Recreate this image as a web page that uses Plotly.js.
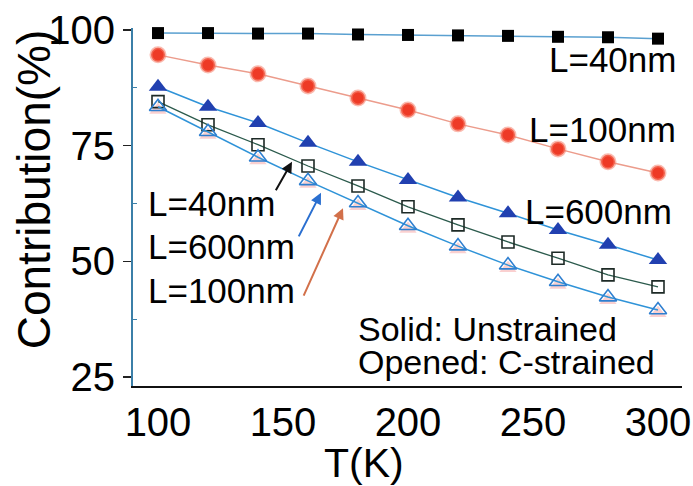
<!DOCTYPE html>
<html>
<head>
<meta charset="utf-8">
<script src="https://cdn.plot.ly/plotly-3.0.1.min.js"></script>
<style>html,body{margin:0;padding:0;background:#fff;}#chart{width:693px;height:486px;}</style>
</head>
<body>
<div id="chart"></div>
<script>
// Temperature (K)
const T = [100, 120, 140, 160, 180, 200, 220, 240, 260, 280, 300];
// Solid (unstrained)
const unstrained40 = [99.3, 99.3, 99.2, 99.2, 99.0, 98.9, 98.8, 98.7, 98.5, 98.4, 98.1];
const unstrained100 = [94.6, 92.4, 90.5, 87.9, 85.3, 82.7, 79.7, 77.3, 74.3, 71.5, 69.1];
const unstrained600 = [87.7, 83.4, 79.9, 75.6, 71.5, 67.6, 63.8, 60.4, 56.8, 53.6, 50.3];
// Opened (C-strained)
const strained40 = [84.5, 79.5, 75.2, 70.6, 66.3, 61.8, 57.9, 54.2, 50.7, 47.1, 44.5];
const strained600 = [83.4, 78.0, 72.5, 67.4, 62.6, 57.7, 53.3, 49.2, 45.6, 42.3, 39.5];
const strained100 = [82.7, 77.3, 71.8, 66.7, 61.9, 57.0, 52.6, 48.5, 44.9, 41.6, 38.8];

const xTicks = [100, 150, 200, 250, 300];
const yTicks = [25, 50, 75, 100];

const FONT = 'Liberation Sans, Arial, Helvetica, sans-serif';

const traces = [
  {x: T, y: unstrained40, mode: 'lines+markers', cliponaxis: false,
   line: {color: '#5aa0d0', width: 1.5},
   marker: {symbol: 'square', size: 12, color: '#000'}},
  {x: T, y: unstrained100, mode: 'lines+markers', cliponaxis: false,
   line: {color: '#ec9c8c', width: 1.5},
   marker: {symbol: 'circle', size: 14, color: '#ee3a26', line: {color: 'rgba(245,130,110,0.55)', width: 3}}},
  {x: T, y: unstrained600, mode: 'lines+markers', cliponaxis: false,
   line: {color: '#2f93d8', width: 1.5},
   marker: {symbol: 'triangle-up', size: 16, color: '#2140b0'}},
  {x: T, y: strained100, mode: 'markers', cliponaxis: false,
   marker: {symbol: 'triangle-up', size: 15, color: 'rgba(240,120,120,0.35)', line: {width: 0}}},
  {x: T, y: strained40, mode: 'lines+markers', cliponaxis: false,
   line: {color: '#2b5a4c', width: 1.3},
   marker: {symbol: 'square-open', size: 12, color: '#1d2a26', line: {width: 1.6}}},
  {x: T, y: strained600, mode: 'lines+markers', cliponaxis: false,
   line: {color: '#2f93d8', width: 1.5},
   marker: {symbol: 'triangle-up-open', size: 15, color: '#2f7fd0', line: {width: 1.6}}}
];

function txt(text, x, y, xanchor, size) {
  return {text: text, x: x, y: y, xref: 'x', yref: 'y', xanchor: xanchor, yanchor: 'middle',
          showarrow: false, borderpad: 0, font: {family: FONT, size: size || 35, color: '#000'}};
}
function arrow(x, y, ax, ay, color) {
  return {text: '', x: x, y: y, xref: 'x', yref: 'y', ax: ax, ay: ay, showarrow: true,
          arrowhead: 2, arrowsize: 1.1, arrowwidth: 2, arrowcolor: color};
}

const annotations = [
  txt('L=40nm', 307.6, 93.5, 'right'),
  txt('L=100nm', 307.6, 78.4, 'right'),
  txt('L=600nm', 306, 60.7, 'right'),
  txt('L=40nm', 95.6, 62.6, 'left'),
  txt('L=600nm', 95.6, 53.3, 'left'),
  txt('L=100nm', 95.6, 43.8, 'left'),
  txt('Solid: Unstrained', 179.6, 35.4, 'left', 34),
  txt('Opened: C-strained', 179.6, 28.2, 'left', 34),
  arrow(153.6, 71.5, -17, 30, '#111'),
  arrow(165.2, 64.8, -23, 45, '#2a6fd0'),
  arrow(174, 61.5, -40, 89, '#d2704a'),
  {text: 'Contribution(%)', xref: 'paper', yref: 'paper', x: -0.18, y: 0.55,
   textangle: -90, showarrow: false, xanchor: 'center', yanchor: 'middle',
   font: {family: FONT, size: 46, color: '#000'}},
  {text: 'T(K)', xref: 'paper', yref: 'paper', x: 0.42, y: -0.215,
   showarrow: false, xanchor: 'center', yanchor: 'middle', borderpad: 0,
   font: {family: FONT, size: 41, color: '#000'}}
];

const layout = {
  width: 693, height: 486,
  margin: {l: 133, r: 11, t: 28, b: 100},
  paper_bgcolor: '#fff', plot_bgcolor: '#fff',
  showlegend: false,
  font: {family: FONT, color: '#000'},
  xaxis: {range: [90, 309.6], tickvals: xTicks, ticktext: xTicks.map(String),
          ticks: '',
          showline: true, linecolor: '#111', linewidth: 2, showgrid: false, zeroline: false,
          tickfont: {family: FONT, size: 40, color: '#000'}},
  xaxis3: {overlaying: 'x', matches: 'x', side: 'bottom', range: [90, 309.6], tickvals: xTicks,
           showticklabels: false, ticks: 'outside', ticklen: 7, tickwidth: 1.5, tickcolor: '#222',
           showline: false, showgrid: false, zeroline: false,
           minor: {tickvals: [125, 175, 225, 275], ticks: 'inside', ticklen: 4, tickcolor: '#333'}},
  yaxis: {range: [23.1, 100.4], tickvals: yTicks, ticktext: yTicks.map(String),
          ticks: 'outside', ticklen: 8, tickwidth: 1.5, tickcolor: '#222',
          showline: true, linecolor: '#3b7fa8', linewidth: 2, showgrid: false, zeroline: false,
          tickfont: {family: FONT, size: 40, color: '#000'},
          minor: {tickvals: [37.5, 62.5, 87.5], ticks: 'inside', ticklen: 4, tickcolor: '#3b7fa8'}},
  xaxis2: {overlaying: 'x', matches: 'x', side: 'top', range: [90, 309.6], tickvals: xTicks,
           showticklabels: false, ticks: 'inside', ticklen: 6, tickcolor: '#222',
           showline: true, linecolor: '#111', linewidth: 2, showgrid: false, zeroline: false},
  yaxis2: {overlaying: 'y', matches: 'y', side: 'right', range: [23.1, 100.4], tickvals: yTicks,
           showticklabels: false, ticks: 'inside', ticklen: 6, tickcolor: '#222',
           showline: true, linecolor: '#111', linewidth: 2, showgrid: false, zeroline: false},
  annotations: annotations
};

Plotly.newPlot('chart', traces, layout, {displayModeBar: false, staticPlot: true});
</script>
</body>
</html>
